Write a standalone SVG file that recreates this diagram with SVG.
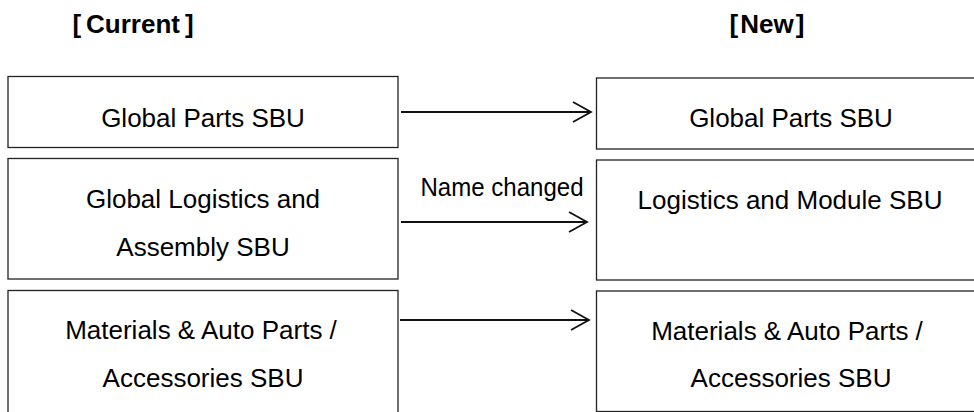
<svg xmlns="http://www.w3.org/2000/svg" width="974" height="412" viewBox="0 0 974 412">
  <style>
    .box { fill: #ffffff; stroke: #222222; stroke-width: 1.3; }
    .lbl { font-family: "Liberation Sans", Arial, "Noto Sans CJK JP", sans-serif; font-size: 26px; fill: #000000; text-anchor: middle; }
    .hdr { font-family: "Liberation Sans", Arial, "Noto Sans CJK JP", sans-serif; font-size: 26px; font-weight: bold; fill: #000000; text-anchor: middle; }
    .conn { stroke: #111111; stroke-width: 1.8; fill: none; }
  </style>
  <defs>
    <marker id="chev" markerUnits="userSpaceOnUse" markerWidth="24" markerHeight="24" viewBox="-20 -12 24 24" refX="0" refY="0" orient="auto" overflow="visible">
      <path d="M-18,-10 L0,0 L-18,10" fill="none" stroke="#111111" stroke-width="1.8"/>
    </marker>
  </defs>
  <rect width="974" height="412" fill="#ffffff"/>

  <g id="header-current"><text class="hdr" x="133" y="33">[<tspan dx="5">Current</tspan><tspan dx="5">]</tspan></text></g>
  <g id="header-new"><text class="hdr" x="767" y="33">[<tspan dx="2">New</tspan><tspan dx="2">]</tspan></text></g>

  <g id="cur-global-parts">
    <rect class="box" x="8" y="76.5" width="390" height="71"/>
    <text class="lbl" x="203" y="127">Global Parts SBU</text>
  </g>
  <g id="cur-logistics">
    <rect class="box" x="8" y="158.5" width="390" height="120.5"/>
    <text class="lbl" x="203" y="208">Global Logistics and</text>
    <text class="lbl" x="203" y="256">Assembly SBU</text>
  </g>
  <g id="cur-materials">
    <rect class="box" x="8" y="290.5" width="390" height="140"/>
    <text class="lbl" x="201" y="339">Materials &amp; Auto Parts /</text>
    <text class="lbl" x="203" y="387">Accessories SBU</text>
  </g>

  <g id="new-global-parts">
    <rect class="box" x="596.5" y="78" width="400" height="71"/>
    <text class="lbl" x="791" y="127">Global Parts SBU</text>
  </g>
  <g id="new-logistics">
    <rect class="box" x="596.5" y="160" width="400" height="120"/>
    <text class="lbl" x="790" y="209">Logistics and Module SBU</text>
  </g>
  <g id="new-materials">
    <rect class="box" x="596.5" y="291" width="400" height="120.5"/>
    <text class="lbl" x="787" y="340">Materials &amp; Auto Parts /</text>
    <text class="lbl" x="791" y="387">Accessories SBU</text>
  </g>

  <g id="connectors">
    <line class="conn" x1="401" y1="112" x2="591" y2="112" marker-end="url(#chev)"/>
    <line class="conn" x1="401" y1="222" x2="587" y2="222" marker-end="url(#chev)"/>
    <line class="conn" x1="400" y1="320" x2="589" y2="320" marker-end="url(#chev)"/>
    <text class="lbl" x="502" y="196" textLength="163" lengthAdjust="spacingAndGlyphs">Name changed</text>
  </g>
</svg>
